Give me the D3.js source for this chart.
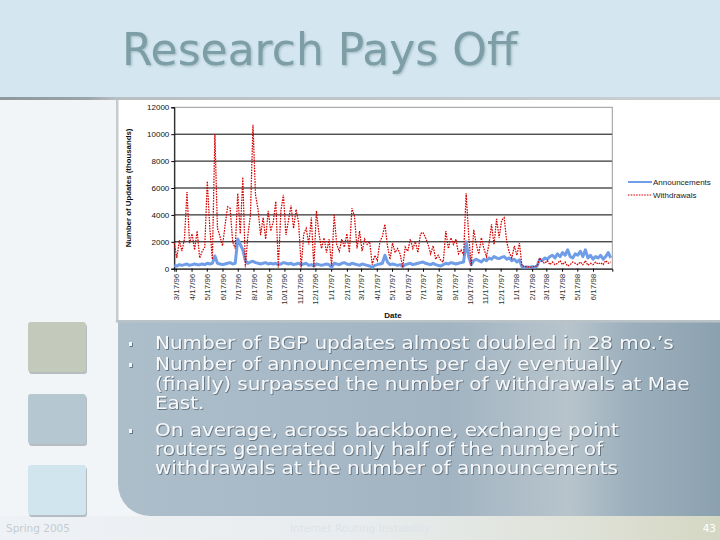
<!DOCTYPE html>
<html><head><meta charset="utf-8">
<script src="https://cdn.jsdelivr.net/npm/d3@7"></script>
<style>html,body{margin:0;padding:0;background:#fff}svg{display:block}</style>
</head><body>
<script>
// ---- data ----
const titleText = "Research Pays Off";
const seriesNames = ["Announcements", "Withdrawals"];
const dataStart = "3/14/96";   // first daily sample shown
const stepDays = 5;             // samples read every 5 days
const axisEnd = "7/25/98";
const tickLabels = ["3/17/96","4/17/96","5/17/96","6/17/96","7/17/96","8/17/96","9/17/96","10/17/96","11/17/96","12/17/96",
  "1/17/97","2/17/97","3/17/97","4/17/97","5/17/97","6/17/97","7/17/97","8/17/97","9/17/97","10/17/97","11/17/97","12/17/97",
  "1/17/98","2/17/98","3/17/98","4/17/98","5/17/98","6/17/98"];
const yTicks = [0, 2000, 4000, 6000, 8000, 10000, 12000];
const withdrawals = [
  1900, 800, 2100, 1300, 2200, 5700, 1900, 2600, 1400, 2800,
  800, 1300, 1600, 6500, 3000, 700, 10000, 3000, 2400, 1700,
  3200, 4600, 4500, 2000, 1500, 5600, 2600, 6800, 100, 2500,
  4000, 10700, 5500, 4400, 2500, 3800, 2200, 4300, 2800, 3500,
  5000, 100, 4300, 5500, 2500, 3600, 4700, 3000, 4400, 3400,
  100, 2600, 3000, 1800, 3800, 100, 4300, 2600, 1500, 2300,
  1200, 2200, 200, 4000, 1800, 1300, 2200, 1600, 2600, 1200,
  4500, 3900, 1500, 2800, 1300, 2200, 1800, 2000, 300, 1000,
  600, 2000, 2400, 3300, 1700, 700, 1900, 1200, 1500, 1100,
  100, 1600, 1300, 2200, 1500, 2000, 1200, 2600, 2700, 2300,
  1800, 1100, 1700, 700, 1000, 600, 500, 2800, 1500, 2300,
  1800, 2200, 1100, 1400, 1000, 5600, 2500, 200, 2900, 1800,
  1100, 2300, 1500, 900, 1800, 3300, 1800, 3700, 2300, 3600,
  3800, 2000, 1200, 800, 1700, 1000, 1900, 200, 200, 100,
  150, 100, 200, 200, 800, 500, 400, 600, 300, 500,
  300, 400, 600, 300, 500, 200, 300, 500, 400, 300,
  500, 300, 600, 250, 400, 300, 500, 350, 450, 300,
  600, 400, 500];
const announcements = [
  250, 200, 300, 250, 300, 350, 250, 300, 350, 300,
  300, 350, 300, 400, 350, 400, 950, 400, 350, 300,
  350, 400, 450, 350, 400, 2200, 1800, 1400, 600, 400,
  500, 550, 450, 400, 350, 400, 450, 350, 400, 350,
  400, 300, 350, 450, 400, 350, 400, 300, 350, 400,
  300, 350, 400, 250, 300, 200, 350, 300, 250, 300,
  350, 300, 100, 400, 350, 300, 400, 450, 350, 300,
  400, 350, 300, 250, 350, 300, 250, 200, 100, 250,
  300, 350, 400, 1000, 500, 300, 350, 300, 250, 300,
  150, 300, 350, 400, 300, 350, 400, 450, 500, 400,
  350, 300, 400, 300, 250, 200, 300, 400, 350, 450,
  400, 350, 400, 450, 500, 2000, 900, 300, 600, 700,
  600, 500, 700, 600, 800, 700, 900, 800, 750, 850,
  900, 700, 800, 600, 700, 500, 650, 150, 100, 120,
  100, 150, 120, 200, 700, 600, 800, 700, 900, 1000,
  800, 1100, 900, 1200, 1000, 1400, 900, 800, 1100, 1000,
  1300, 900, 1400, 800, 1000, 700, 900, 800, 1000, 700,
  900, 1200, 800];
const bullets = [
  ["Number of BGP updates almost doubled in 28 mo.\u2019s"],
  ["Number of announcements per day eventually", "(finally) surpassed the number of withdrawals at Mae", "East."],
  ["On average, across backbone, exchange point", "routers generated only half of the number of", "withdrawals at the number of announcements"]
];
const footerLeft = "Spring 2005", footerMid = "Internet Routing Instability", footerRight = "43";

// ---- drawing ----
const W = 720, H = 540;
const svg = d3.select("body").append("svg").attr("width", W).attr("height", H);
const defs = svg.append("defs");
function lin(id, stops, x2 = 1, y2 = 0) {
  const g = defs.append("linearGradient").attr("id", id).attr("x1", 0).attr("y1", 0).attr("x2", x2).attr("y2", y2);
  stops.forEach(s => g.append("stop").attr("offset", s[0]).attr("stop-color", s[1]));
}
lin("panelG", [[0, "#adbecb"], [0.55, "#a2b4c2"], [0.75, "#b7c4cc"], [0.85, "#9cafbc"], [1, "#8ca1b0"]]);
lin("footG", [[0, "#eef2f6"], [0.5, "#e8ecee"], [0.8, "#dfe2d8"], [1, "#d4d7c2"]]);
lin("sepG", [[0, "#8e979b"], [0.12, "#9aa3a7"], [0.16, "#b8bfc2"], [1, "#c9cfd2"]]);
function shadow(id, dx, dy, sd, color, op) {
  const f = defs.append("filter").attr("id", id).attr("x", "-5%").attr("y", "-30%").attr("width", "110%").attr("height", "160%");
  f.append("feDropShadow").attr("dx", dx).attr("dy", dy).attr("stdDeviation", sd)
    .attr("flood-color", color).attr("flood-opacity", op);
}
shadow("titleSh", 1.2, 1.2, 0.8, "#4f6f77", 0.35);
shadow("bodySh", 0.8, 0.8, 0.5, "#4a5966", 0.9);

svg.append("rect").attr("width", W).attr("height", H).attr("fill", "#f1f5f8");
svg.append("rect").attr("width", W).attr("height", 97).attr("fill", "#d4e7f0");
svg.append("rect").attr("y", 97).attr("width", W).attr("height", 3).attr("fill", "url(#sepG)");
svg.append("rect").attr("y", 516).attr("width", W).attr("height", 24).attr("fill", "url(#footG)");

// title
svg.append("text").attr("x", 122).attr("y", 65).attr("font-family", "DejaVu Sans").attr("font-size", 44)
  .attr("fill", "#7d9ea6").attr("filter", "url(#titleSh)").text(titleText);

// squares
const sqColors = ["#c3cabb", "#b5c7d1", "#d1e5ee"];
const sqY = [322, 394, 465];
sqColors.forEach((c, i) => {
  svg.append("rect").attr("x", 29).attr("y", sqY[i] + 2).attr("width", 58).attr("height", 50).attr("rx", 3).attr("fill", "#8d989e").attr("opacity", 0.6);
  svg.append("rect").attr("x", 28).attr("y", sqY[i]).attr("width", 58).attr("height", 50).attr("rx", 3).attr("fill", c);
});

// chart frame
svg.append("rect").attr("x", 118).attr("y", 100).attr("width", 602).attr("height", 222).attr("fill", "#ffffff");
svg.append("rect").attr("x", 116).attr("y", 100).attr("width", 2.5).attr("height", 222).attr("fill", "#c6cbce");

// panel
svg.append("path").attr("d", "M118,322 H720 V516 H150 A32,32 0 0 1 118,484 Z").attr("fill", "url(#panelG)");
svg.append("rect").attr("x", 116).attr("y", 320).attr("width", 604).attr("height", 2.5).attr("fill", "#b9c2c7");

// bullets text
const baselines = [[349], [370, 390, 409], [436, 455, 474]];
bullets.forEach((lines, bi) => {
  svg.append("rect").attr("x", 129).attr("y", baselines[bi][0] - 7).attr("width", 3).attr("height", 4)
    .attr("fill", "#f4f6f8").attr("filter", "url(#bodySh)");
  lines.forEach((t, li) => {
    const y = baselines[bi][li];
    const tx = svg.append("text").attr("x", 155).attr("y", y).attr("font-family", "DejaVu Sans").attr("font-size", 18.5)
      .attr("fill", "#f6f8fa").attr("filter", "url(#bodySh)").text(t);
    const nat = tx.node().getComputedTextLength();
    tx.attr("textLength", nat * 1.08).attr("lengthAdjust", "spacingAndGlyphs");
  });
});

// footer
svg.append("text").attr("x", 6).attr("y", 532).attr("font-family", "DejaVu Sans").attr("font-size", 10.5)
  .attr("fill", "#c4ccd3").text(footerLeft);
svg.append("text").attr("x", 360).attr("y", 532).attr("text-anchor", "middle").attr("font-family", "DejaVu Sans").attr("font-size", 10.5)
  .attr("fill", "#dde3e8").text(footerMid);
svg.append("text").attr("x", 716).attr("y", 532).attr("text-anchor", "end").attr("font-family", "DejaVu Sans").attr("font-size", 10.5)
  .attr("fill", "#ffffff").text(footerRight);

// ---- chart ----
const parse = d3.timeParse("%m/%d/%y");
const start = parse(dataStart), end = parse(axisEnd);
const plot = { l: 174.3, r: 612.3, t: 107.3, b: 268.7 };
const x = d3.scaleTime().domain([start, end]).range([plot.l, plot.r]);
const y = d3.scaleLinear().domain([0, 12000]).range([plot.b, plot.t]);
const dates = withdrawals.map((_, i) => d3.timeDay.offset(start, i * stepDays));

const g = svg.append("g");
// gridlines
g.selectAll("line.grid").data(yTicks.filter(v => v > 0 && v < 12000)).join("line")
  .attr("x1", plot.l).attr("x2", plot.r).attr("y1", d => y(d)).attr("y2", d => y(d))
  .attr("stroke", "#000").attr("stroke-width", 1);
g.append("rect").attr("x", plot.l).attr("y", plot.t).attr("width", plot.r - plot.l).attr("height", plot.b - plot.t)
  .attr("fill", "none").attr("stroke", "#9a9a9a").attr("stroke-width", 1);

// y axis
const yAxis = d3.axisLeft(y).tickValues(yTicks).tickSize(3).tickFormat(d3.format("d"));
const ya = g.append("g").attr("transform", `translate(${plot.l},0)`).call(yAxis);
ya.select(".domain").attr("stroke", "#000");
ya.selectAll(".tick line").attr("stroke", "#000");
ya.selectAll("text").attr("font-family", "Liberation Sans, Arial").attr("font-size", 8).attr("fill", "#111").attr("x", -5);

// x axis
const tickDates = tickLabels.map(parse);
const xAxis = d3.axisBottom(x).tickValues(tickDates).tickSize(3).tickFormat((d, i) => tickLabels[i]);
const xa = g.append("g").attr("transform", `translate(0,${plot.b})`).call(xAxis);
xa.select(".domain").attr("stroke", "#000");
xa.selectAll(".tick line").attr("stroke", "#000");
xa.selectAll("text").attr("font-family", "Liberation Sans, Arial").attr("font-size", 8).attr("fill", "#333")
  .attr("transform", "rotate(-90)").attr("text-anchor", "end").attr("x", -5).attr("y", 0).attr("dy", "0.32em");

// axis titles
g.append("text").attr("transform", `translate(131,188) rotate(-90)`).attr("text-anchor", "middle")
  .attr("font-family", "Liberation Sans, Arial").attr("font-weight", "bold").attr("font-size", 7.8).attr("fill", "#111")
  .text("Number of Updates (thousands)");
g.append("text").attr("x", 393).attr("y", 318).attr("text-anchor", "middle")
  .attr("font-family", "Liberation Sans, Arial").attr("font-weight", "bold").attr("font-size", 8).attr("fill", "#111").text("Date");

// series
const line = d3.line().x((d, i) => x(dates[i])).y(d => y(d));
g.append("path").datum(announcements).attr("d", line).attr("fill", "none")
  .attr("stroke", "#6f9de8").attr("stroke-width", 3).attr("stroke-linejoin", "round");
g.append("path").datum(withdrawals).attr("d", line).attr("fill", "none")
  .attr("stroke", "#d40000").attr("stroke-width", 1.25).attr("stroke-dasharray", "1.6,1.1");

// legend
const leg = g.append("g");
const legY = [182, 195];
leg.append("line").attr("x1", 628).attr("x2", 652).attr("y1", legY[0]).attr("y2", legY[0]).attr("stroke", "#6f9de8").attr("stroke-width", 2);
leg.append("line").attr("x1", 628).attr("x2", 652).attr("y1", legY[1]).attr("y2", legY[1]).attr("stroke", "#d40000").attr("stroke-width", 1).attr("stroke-dasharray", "1.6,1.1");
seriesNames.forEach((n, i) => leg.append("text").attr("x", 653).attr("y", legY[i]).attr("dy", "0.35em")
  .attr("font-family", "Liberation Sans, Arial").attr("font-size", 8).attr("fill", "#222").text(n));
</script>
</body></html>
